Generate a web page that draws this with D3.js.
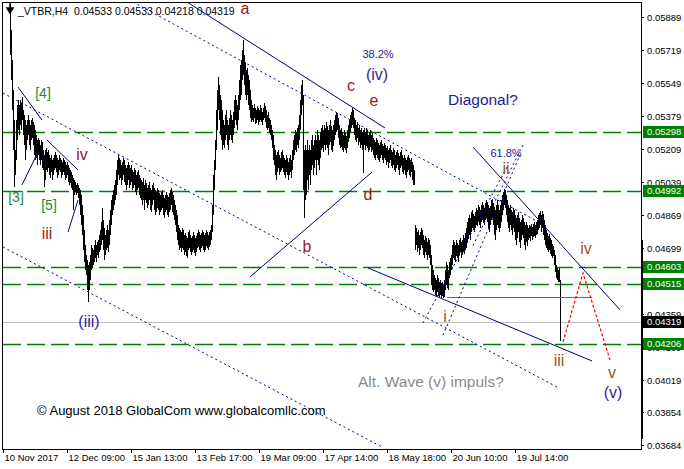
<!DOCTYPE html>
<html><head><meta charset="utf-8">
<script src="https://cdn.jsdelivr.net/npm/d3@7/dist/d3.min.js"></script>
<style>body{margin:0;background:#fff}svg{display:block}</style>
</head><body>
<script>
// ---------- DATA ----------
const symbolHeader = "_VTBR,H4  0.04533 0.04533 0.04218 0.04319";
const timeLabels = ["10 Nov 2017","12 Dec 09:00","15 Jan 13:00","13 Feb 17:00","19 Mar 09:00","17 Apr 14:00","18 May 18:00","20 Jun 10:00","19 Jul 14:00"];
const barsPerLabel = 64;
const priceTicks = [0.05889,0.05719,0.05549,0.05379,0.05209,0.05039,0.04869,0.04699,0.04359,0.04189,0.04019,0.03854,0.03684];
const levelLines = [0.05298,0.04992,0.04603,0.04515,0.04206];
const bidPrice = 0.04319;
const firstBarIndex = 7;
const POINT = 0.00001;
// H4 bars: [high, low] in points (1 point = 0.00001)
const bars = [
[5956,5693],[5822,5564],[5667,5410],[5513,5204],[5358,5013],[5204,5075],[5358,5152],[5436,5255],[5461,5307],[5436,5281],
[5461,5333],[5446,5307],[5477,5358],[5410,5281],[5384,5230],[5358,5152],[5333,5204],[5358,5255],[5384,5281],[5358,5230],
[5333,5204],[5358,5255],[5369,5266],[5348,5230],[5333,5178],[5307,5152],[5281,5163],[5255,5126],[5266,5178],[5255,5152],
[5230,5126],[5255,5152],[5245,5111],[5204,5101],[5178,5013],[5204,5049],[5214,5101],[5193,5090],[5204,5111],[5178,5075],
[5163,5060],[5178,5090],[5152,5049],[5163,5075],[5178,5101],[5193,5111],[5178,5090],[5163,5060],[5152,5075],[5178,5101],
[5163,5090],[5152,5060],[5142,5075],[5163,5090],[5152,5075],[5142,5049],[5126,5060],[5142,5075],[5126,5039],[5111,5023],
[5101,5034],[5090,5008],[5075,4998],[5060,4895],[5049,4972],[5039,4987],[5023,4972],[5034,4982],[5023,4956],[5008,4920],
[4998,4869],[4972,4817],[4920,4766],[4869,4689],[4792,4627],[4714,4586],[4663,4560],[4637,4482],[4611,4421],[4627,4482],
[4663,4534],[4714,4586],[4699,4596],[4689,4611],[4714,4627],[4740,4647],[4714,4627],[4730,4663],[4740,4647],[4766,4678],
[4792,4689],[4833,4714],[4905,4740],[4843,4689],[4802,4637],[4766,4663],[4792,4689],[4817,4699],[4792,4678],[4843,4714],
[4895,4766],[4946,4817],[4972,4869],[4998,4895],[5023,4920],[5049,4946],[5101,4972],[5152,5023],[5178,5075],[5163,5049],
[5152,5060],[5126,5023],[5142,5049],[5163,5075],[5152,5039],[5126,5023],[5111,4998],[5126,5023],[5142,5049],[5126,5008],
[5111,5023],[5126,5039],[5101,4998],[5090,5008],[5111,5023],[5101,4987],[5075,4972],[5090,4998],[5101,5008],[5075,4972],
[5060,4956],[5049,4946],[5039,4920],[5060,4946],[5023,4895],[5049,4946],[5034,4931],[5008,4905],[5023,4920],[5039,4946],
[5008,4895],[4998,4884],[5023,4920],[5034,4946],[5008,4895],[4998,4869],[4987,4884],[5008,4905],[4998,4895],[4982,4869],
[4972,4884],[4987,4895],[4998,4905],[4972,4869],[4956,4853],[4972,4884],[4987,4895],[4972,4869],[4962,4859],[4982,4884],
[4998,4895],[5008,4920],[4987,4884],[4972,4869],[4946,4843],[4920,4817],[4895,4781],[4869,4740],[4817,4714],[4802,4689],
[4792,4699],[4781,4678],[4802,4699],[4792,4689],[4766,4663],[4776,4678],[4761,4658],[4750,4647],[4781,4689],[4792,4699],
[4766,4678],[4750,4663],[4761,4678],[4781,4689],[4766,4673],[4750,4658],[4761,4678],[4776,4699],[4792,4704],[4781,4689],
[4766,4678],[4776,4699],[4792,4709],[4781,4689],[4766,4678],[4776,4689],[4792,4709],[4781,4699],[4766,4689],[4781,4704],
[4792,4714],[4817,4740],[4920,4781],[5075,4869],[5152,4998],[5255,5101],[5410,5204],[5513,5307],[5580,5410],[5539,5358],
[5487,5281],[5461,5255],[5410,5204],[5358,5230],[5333,5214],[5384,5255],[5410,5281],[5358,5230],[5333,5204],[5369,5255],
[5410,5281],[5384,5255],[5358,5240],[5400,5281],[5461,5317],[5487,5358],[5461,5333],[5436,5307],[5487,5358],[5564,5410],
[5642,5461],[5667,5487],[5719,5564],[5771,5590],[5693,5539],[5657,5487],[5616,5461],[5626,5487],[5590,5436],[5564,5410],
[5513,5369],[5461,5348],[5436,5358],[5420,5348],[5441,5369],[5420,5338],[5410,5343],[5430,5358],[5420,5333],[5410,5348],
[5436,5358],[5420,5348],[5400,5333],[5420,5358],[5446,5369],[5430,5348],[5410,5317],[5384,5307],[5400,5317],[5369,5291],
[5358,5281],[5333,5255],[5307,5214],[5281,5152],[5230,5126],[5204,5075],[5178,5049],[5193,5090],[5204,5111],[5178,5075],
[5163,5090],[5193,5101],[5204,5111],[5178,5090],[5163,5075],[5152,5060],[5178,5090],[5163,5075],[5142,5049],[5163,5075],
[5178,5090],[5152,5060],[5204,5101],[5255,5152],[5281,5178],[5307,5204],[5297,5193],[5317,5230],[5333,5214],[5384,5255],
[5461,5307],[5539,5384],[5564,5436],[5487,4998],[5204,4853],[5230,4946],[5204,4972],[5255,5049],[5204,4998],[5230,5075],
[5204,5023],[5255,5101],[5281,5126],[5230,5075],[5255,5111],[5281,5152],[5255,5075],[5307,5152],[5281,5126],[5255,5101],
[5297,5163],[5317,5204],[5333,5214],[5307,5193],[5333,5230],[5317,5204],[5348,5230],[5327,5214],[5307,5178],[5333,5230],
[5358,5245],[5327,5204],[5307,5193],[5333,5224],[5358,5255],[5384,5281],[5400,5297],[5394,5307],[5369,5266],[5333,5230],
[5307,5214],[5317,5219],[5297,5204],[5281,5193],[5307,5214],[5291,5204],[5276,5188],[5307,5214],[5333,5245],[5358,5266],
[5384,5297],[5400,5317],[5420,5333],[5410,5317],[5369,5281],[5358,5255],[5333,5245],[5348,5266],[5317,5230],[5333,5245],
[5307,5214],[5317,5230],[5297,5204],[5307,5085],[5317,5230],[5297,5204],[5317,5224],[5307,5214],[5281,5193],[5297,5204],
[5307,5219],[5281,5193],[5291,5204],[5266,5178],[5255,5163],[5245,5152],[5266,5178],[5255,5163],[5240,5152],[5230,5142],
[5245,5163],[5255,5178],[5235,5152],[5224,5137],[5240,5163],[5230,5152],[5214,5126],[5224,5142],[5204,5111],[5214,5137],
[5230,5152],[5204,5121],[5193,5111],[5214,5126],[5204,5101],[5178,5090],[5193,5111],[5204,5126],[5188,5101],[5173,5075],
[5193,5111],[5204,5121],[5178,5090],[5163,5080],[5178,5101],[5163,5075],[5152,5060],[5168,5090],[5178,5101],[5163,5075],
[5152,5065],[5163,5090],[5142,5049],[5126,5023],[5101,5023],[4817,4689],[4802,4714],[4781,4678],[4792,4699],[4766,4663],
[4781,4689],[4802,4714],[4792,4699],[4766,4663],[4740,4647],[4761,4678],[4750,4663],[4730,4637],[4750,4663],[4740,4647],
[4714,4611],[4663,4508],[4611,4482],[4586,4472],[4560,4482],[4544,4457],[4534,4447],[4560,4472],[4544,4452],[4524,4447],
[4534,4457],[4519,4441],[4524,4452],[4508,4441],[4534,4447],[4586,4482],[4627,4508],[4611,4493],[4586,4482],[4627,4544],
[4647,4560],[4663,4586],[4714,4611],[4740,4647],[4730,4637],[4714,4627],[4740,4658],[4725,4647],[4714,4627],[4740,4663],
[4750,4678],[4730,4647],[4740,4663],[4766,4678],[4750,4668],[4776,4689],[4802,4699],[4833,4725],[4853,4750],[4869,4766],
[4853,4740],[4884,4781],[4895,4802],[4874,4792],[4864,4781],[4884,4802],[4905,4817],[4895,4812],[4920,4833],[4910,4817],
[4895,4802],[4920,4833],[4936,4843],[4920,4828],[4905,4817],[4931,4843],[4946,4853],[4936,4833],[4920,4802],[4905,4781],
[4915,4817],[4946,4843],[4951,4853],[4931,4817],[4910,4766],[4895,4740],[4920,4792],[4946,4817],[4920,4802],[4895,4781],
[4920,4802],[4946,4833],[4972,4869],[4987,4895],[5003,4920],[4998,4905],[4972,4869],[4946,4833],[4920,4802],[4905,4781],
[4920,4817],[4895,4792],[4884,4766],[4905,4802],[4895,4781],[4869,4740],[4853,4714],[4869,4750],[4884,4781],[4853,4730],
[4833,4699],[4843,4740],[4869,4766],[4853,4750],[4833,4714],[4817,4689],[4833,4730],[4817,4709],[4802,4740],[4817,4750],
[4812,4735],[4822,4761],[4807,4740],[4822,4756],[4833,4761],[4817,4750],[4833,4766],[4843,4771],[4869,4792],[4879,4802],
[4890,4817],[4869,4781],[4890,4802],[4874,4766],[4843,4740],[4817,4714],[4792,4699],[4776,4689],[4761,4678],[4771,4689],
[4750,4668],[4740,4658],[4720,4647],[4709,4658],[4689,4611],[4663,4575],[4611,4544],[4596,4534],[4586,4524],[4596,4524],
[4533,4218]
];
// trend lines: [barIndex1, price1, barIndex2, price2, style]
const trendLines = [
  [184,0.05966,382,0.05317,"solid"],
  [130,0.05966,539,0.04823,"dot"],
  [0,0.05497,554,0.03983,"dot"],
  [0,0.04704,379,0.03674,"dot"],
  [15,0.05528,39,0.05358,"solid"],
  [44,0.05255,75,0.05101,"solid"],
  [19,0.05024,35,0.05193,"solid"],
  [65,0.04781,75,0.04946,"solid"],
  [247,0.04550,369,0.05090,"solid"],
  [365,0.04596,589,0.04117,"solid"],
  [470,0.05219,617,0.04380,"solid"],
  [420,0.04313,504,0.05116,"dot"],
  [440,0.04250,517,0.05178,"dot"],
  [470,0.04712,520,0.05230,"dot"]
];
const projection = [[560,0.04215],[580,0.04570],[607,0.04122]];
const waveILow = {from:444, to:589, price:0.04446};
// labels: [text, barIndex, price, colour key, size, anchor, dy]
const labels = [
  ["a",242,0.05925,"red",16,"middle","0.27em"],
  ["38.2%",375,0.05698,"navy",11,"middle","0.36em"],
  ["(iv)",374,0.05585,"purple",16,"middle","0.26em"],
  ["c",348,0.05530,"red",16,"middle","0.27em"],
  ["e",371,0.05452,"red",16,"middle","0.27em"],
  ["[4]",40,0.05492,"green",14,"middle","0.27em"],
  ["[3]",13,0.04954,"green",14,"middle","0.27em"],
  ["[5]",46,0.04914,"green",14,"middle","0.27em"],
  ["iv",79,0.05183,"red",16,"middle","0.36em"],
  ["iii",44,0.04775,"red",16,"middle","0.36em"],
  ["(iii)",86,0.04315,"purple",16,"middle","0.26em"],
  ["d",365,0.04977,"red",16,"middle","0.36em"],
  ["b",304,0.04709,"red",16,"middle","0.36em"],
  ["61.8%",503,0.05188,"navy",11,"middle","0.36em"],
  ["ii",503,0.05108,"brown",16,"middle","0.36em"],
  ["i",442,0.04346,"brown",16,"middle","0.36em"],
  ["iii",556,0.04119,"brown",16,"middle","0.36em"],
  ["iv",583,0.04699,"brown",16,"middle","0.36em"],
  ["v",609,0.04050,"brown",16,"middle","0.27em"],
  ["(v)",610,0.03949,"purple",16,"middle","0.26em"]
];
const notes = [
  ["Diagonal?",445,0.05436,"navy",15.5],
  ["Alt. Wave (v) impuls?",355,0.03983,"grey",15.5],
  ["\u00a9 August 2018 GlobalCom www.globalcomllc.com",34,0.03838,"black",13]
];

// ---------- DRAW ----------
const W = 684, H = 469;
const colours = {red:"#9a1a14", navy:"#1c1c90", purple:"#3a1aa0", green:"#138a3a", brown:"#a0521e", grey:"#8a8a8a", black:"#000"};
const svg = d3.select("body").append("svg").attr("width", W).attr("height", H);
const x = d3.scaleLinear().domain([0, 638]).range([3, 641]);
const y = d3.scaleLinear().domain([0.03684, 0.05889]).range([445, 17]);

svg.append("defs").append("clipPath").attr("id","plot")
  .append("rect").attr("x",3).attr("y",2).attr("width",638).attr("height",447);
const plot = svg.append("g").attr("clip-path","url(#plot)");

// level lines
plot.selectAll("line.lvl").data(levelLines).join("line").attr("class","lvl")
  .attr("x1",3).attr("x2",641)
  .attr("y1",d=>Math.round(y(d))+0.5).attr("y2",d=>Math.round(y(d))+0.5)
  .attr("stroke","#008000").attr("stroke-width",1.3).attr("stroke-dasharray","18,6");
plot.append("line").attr("x1",3).attr("x2",641)
  .attr("y1",Math.round(y(bidPrice))+0.5).attr("y2",Math.round(y(bidPrice))+0.5)
  .attr("stroke","#c0c0c0").attr("stroke-width",1);

// bars
plot.append("g").attr("shape-rendering","crispEdges").selectAll("line").data(bars).join("line")
  .attr("x1",(d,i)=>Math.round(x(firstBarIndex+i))+0.5)
  .attr("x2",(d,i)=>Math.round(x(firstBarIndex+i))+0.5)
  .attr("y1",d=>y(d[0]*POINT)).attr("y2",d=>y(d[1]*POINT))
  .attr("stroke","#000").attr("stroke-width",1);

// magenta wave i low line
plot.append("line").attr("x1",x(waveILow.from)).attr("x2",x(waveILow.to))
  .attr("y1",Math.round(y(waveILow.price))+0.5).attr("y2",Math.round(y(waveILow.price))+0.5)
  .attr("stroke","#ff00ff").attr("stroke-width",1);

// trend lines
plot.append("g").selectAll("line").data(trendLines).join("line")
  .attr("x1",d=>x(d[0])).attr("y1",d=>y(d[1]))
  .attr("x2",d=>x(d[2])).attr("y2",d=>y(d[3]))
  .attr("stroke","#000080").attr("stroke-width",1)
  .attr("stroke-dasharray",d=>d[4]==="dot"?"2,3":null);

// projection
plot.append("path").datum(projection)
  .attr("d", d3.line().x(d=>x(d[0])).y(d=>y(d[1])))
  .attr("fill","none").attr("stroke","#ff0000").attr("stroke-width",1.2).attr("stroke-dasharray","3,2");

// labels
plot.append("g").selectAll("text").data(labels).join("text")
  .attr("x",d=>x(d[1])).attr("y",d=>y(d[2])).attr("dy",d=>d[6])
  .attr("text-anchor",d=>d[5])
  .attr("font-family","'Liberation Sans', Arial, sans-serif")
  .attr("font-size",d=>d[4]+"px").attr("fill",d=>colours[d[3]]).text(d=>d[0]);
plot.append("g").selectAll("text").data(notes).join("text")
  .attr("x",d=>x(d[1])).attr("y",d=>y(d[2]))
  .attr("font-family","'Liberation Sans', Arial, sans-serif")
  .attr("font-size",d=>d[4]+"px").attr("fill",d=>colours[d[3]]).text(d=>d[0]);

// header + arrow
svg.append("text").attr("x",18).attr("y",15)
  .attr("font-family","'Liberation Sans', Arial, sans-serif").attr("font-size","10.5px")
  .attr("fill","#000").style("white-space","pre").text(symbolHeader);
svg.append("path").attr("d","M"+x(firstBarIndex)+",3 V12 M"+(x(firstBarIndex)-3)+",8 L"+x(firstBarIndex)+",13 L"+(x(firstBarIndex)+3)+",8 Z")
  .attr("stroke","#000").attr("fill","#000").attr("stroke-width",1.5);

// frame
const frame = svg.append("g").attr("shape-rendering","crispEdges");
frame.append("line").attr("x1",2.5).attr("x2",2.5).attr("y1",2).attr("y2",449).attr("stroke","#000");
frame.append("line").attr("x1",2).attr("x2",642).attr("y1",2.5).attr("y2",2.5).attr("stroke","#000");
frame.append("line").attr("x1",641.5).attr("x2",641.5).attr("y1",2).attr("y2",449).attr("stroke","#000");

// axes
const fontAxis = "'Liberation Sans', Arial, sans-serif";
const xAxis = d3.axisBottom(x).tickValues(timeLabels.map((d,i)=>i*barsPerLabel))
  .tickFormat((d,i)=>timeLabels[i]).tickSize(4).tickSizeOuter(0);
const gx = svg.append("g").attr("transform","translate(0,449)").call(xAxis);
gx.select(".domain").attr("d","M2,0.5H642").attr("stroke","#000");
gx.selectAll(".tick line").attr("stroke","#000");
gx.selectAll(".tick text").attr("text-anchor","start").attr("x",1).attr("y",5)
  .attr("font-family",fontAxis).attr("font-size","9.5px").attr("fill","#000");

const yAxis = d3.axisRight(y).tickValues(priceTicks).tickFormat(d3.format(".5f")).tickSize(3).tickSizeOuter(0);
const gy = svg.append("g").attr("transform","translate(641,0)").call(yAxis);
gy.select(".domain").remove();
gy.selectAll(".tick line").attr("stroke","#000");
gy.selectAll(".tick text").attr("x",6).attr("font-family",fontAxis).attr("font-size","9.5px").attr("fill","#000");

// right thick segment of frame
frame.append("line").attr("x1",642).attr("x2",642).attr("y1",y(0.04699)-8).attr("y2",y(0.03684)-6)
  .attr("stroke","#000").attr("stroke-width",2.5);

// price boxes
const boxes = levelLines.map(v=>({v, c:"#008000"})).concat([{v:bidPrice, c:"#000"}]);
const bg = svg.append("g");
bg.selectAll("rect").data(boxes).join("rect")
  .attr("x",643).attr("y",d=>Math.round(y(d.v))-6).attr("width",41).attr("height",12).attr("fill",d=>d.c);
bg.selectAll("text").data(boxes).join("text")
  .attr("x",647).attr("y",d=>y(d.v)).attr("dy","0.34em")
  .attr("font-family",fontAxis).attr("font-size","9.5px").attr("fill","#fff")
  .text(d=>d3.format(".5f")(d.v));
</script>
</body></html>
